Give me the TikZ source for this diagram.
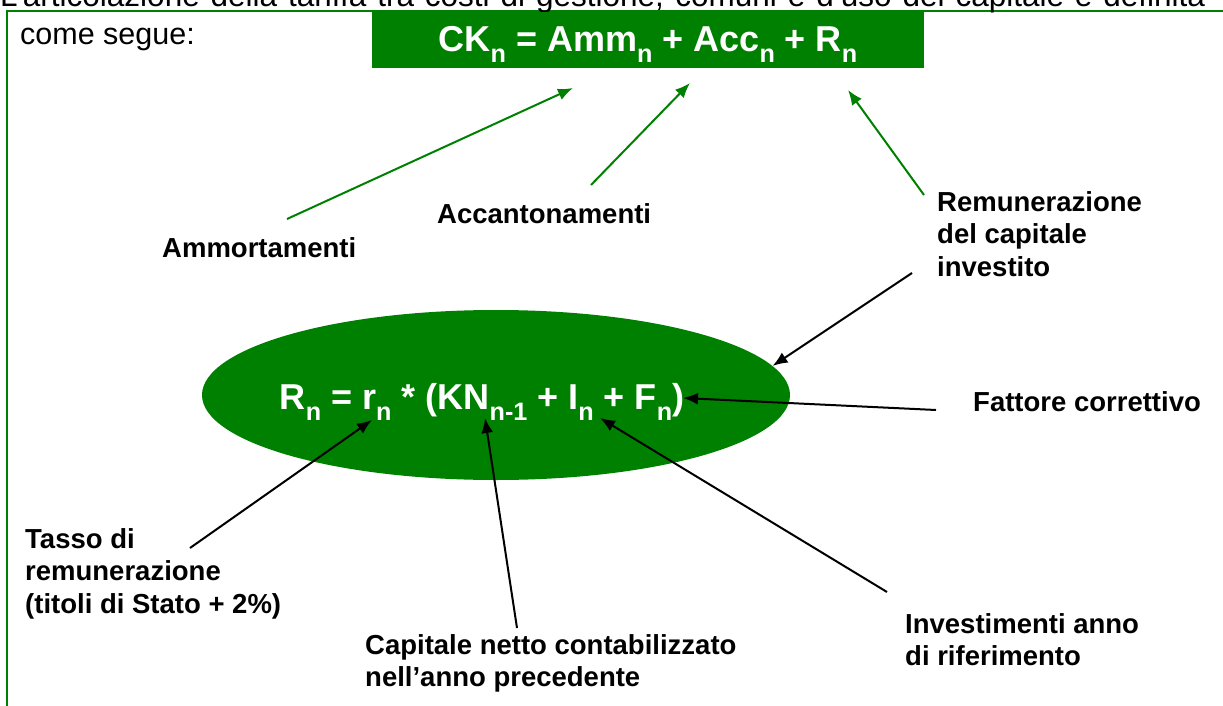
\documentclass[tikz,border=0pt]{standalone}
\usepackage{graphicx}
\usepackage{fontspec}
\setmainfont{Liberation Sans}
\usetikzlibrary{arrows.meta,shapes.geometric}
\definecolor{pptgreen}{RGB}{0,128,0}
\newcommand{\pedix}[1]{\raisebox{-0.3em}{\scalebox{0.7}{#1}}}

\begin{document}
\begin{tikzpicture}[x=1pt,y=-1pt,
    lbl/.style={font=\fontsize{27.5}{32.5}\selectfont\bfseries,inner sep=0pt,align=left},
    gfreccia/.style={draw=pptgreen,line width=2pt,-{Latex[length=15pt,width=12pt]}},
    nfreccia/.style={draw=black,line width=2pt,-{Latex[length=15pt,width=12pt]}}]
\useasboundingbox (0,0) rectangle (1223,706);
\clip (0,0) rectangle (1223,706);
% cornice e testo introduttivo
\draw[pptgreen,line width=2pt] (7,706) -- (7,11) -- (1223,11);
\node[anchor=base west,inner sep=0pt,font=\fontsize{31.5}{36}\selectfont] (intro) at (0,7)
    {\makebox[1205pt][s]{L’articolazione della tariffa tra costi di gestione, comuni e d’uso del capitale è definita}};
\node[anchor=base west,inner sep=0pt,font=\fontsize{30.5}{36}\selectfont] (segue) at (20,45) {come segue:};
% formule
\node[fill=pptgreen,text=white,minimum width=552pt,minimum height=56pt,inner sep=0pt,
    text height=26pt,text depth=2pt,font=\fontsize{36}{40}\selectfont\bfseries] (ck) at (648,40)
    {CK\pedix{n} = Amm\pedix{n} + Acc\pedix{n} + R\pedix{n}};
\node[ellipse,fill=pptgreen,minimum width=588pt,minimum height=170pt] (ell) at (496,395) {};
\node[text=white,inner sep=0pt,font=\fontsize{36}{40}\selectfont\bfseries] (rn) at (482,402)
    {R\pedix{n} = r\pedix{n} * (KN\pedix{n-1} + I\pedix{n} + F\pedix{n})};
% etichette
\node[lbl,anchor=base west] (amm) at (162,257) {Ammortamenti};
\node[lbl,anchor=base west] (acc) at (437,223) {Accantonamenti};
\node[lbl,anchor=north west] (rem) at (937,191) {Remunerazione\\del capitale\\investito};
\node[lbl,anchor=base west] (fatt) at (973,411) {Fattore correttivo};
\node[lbl,anchor=north west] (tasso) at (25,528) {Tasso di\\remunerazione\\(titoli di Stato + 2\%)};
\node[lbl,anchor=north west] (cap) at (365,634) {Capitale netto contabilizzato\\nell’anno precedente};
\node[lbl,anchor=north west] (inv) at (905,613) {Investimenti anno\\di riferimento};
% punte
\coordinate (t-amm) at (573,88);
\coordinate (t-acc) at (690,83);
\coordinate (t-r) at (848,90);
\coordinate (t-rn) at (372,420);
\coordinate (t-kn) at (485,418);
\coordinate (t-in) at (600,418);
\coordinate (t-fn) at (683,398);
% frecce verdi
\draw[gfreccia] ([shift={(125,-38)}]amm.base west) -- (t-amm);
\draw[gfreccia] ([shift={(154,-38)}]acc.base west) -- (t-acc);
\draw[gfreccia] ([shift={(-13,4)}]rem.north west) -- (t-r);
% frecce nere
\draw[nfreccia] ([shift={(-25,82)}]rem.north west) -- (ell.6.5);
\draw[nfreccia] ([shift={(-37,-1)}]fatt.base west) -- (t-fn);
\draw[nfreccia] ([shift={(165,20)}]tasso.north west) -- (t-rn);
\draw[nfreccia] ([shift={(152,-6)}]cap.north west) -- (t-kn);
\draw[nfreccia] ([shift={(-18,-21)}]inv.north west) -- (t-in);
\end{tikzpicture}
\end{document}
